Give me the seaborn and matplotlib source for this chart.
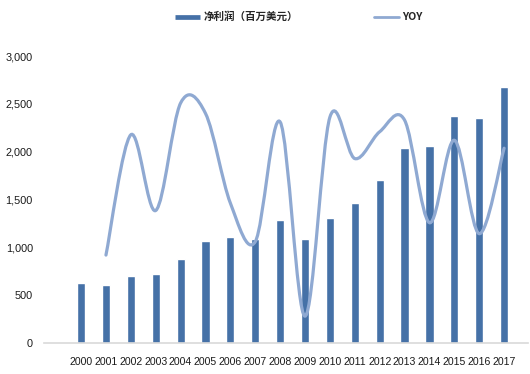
"""Net profit bars with a smoothed YOY line on a hidden secondary axis."""

import matplotlib

matplotlib.use("Agg")
import matplotlib.pyplot as plt  # noqa: E402
import seaborn as sns  # noqa: E402
from matplotlib.lines import Line2D  # noqa: E402
from matplotlib.patches import PathPatch  # noqa: E402
from matplotlib.path import Path  # noqa: E402
from matplotlib.ticker import FuncFormatter  # noqa: E402

YEARS = [str(y) for y in range(2000, 2018)]
NET_PROFIT = [630, 606, 700, 724, 878, 1066, 1108, 1087, 1285, 1087,
              1306, 1463, 1703, 2037, 2058, 2372, 2351, 2675]
# YOY (%) starts in 2001
YOY = [-5.2, 14.5, 2.1, 19.7, 18.0, 3.3, -3.0, 16.6, -15.2, 17.4,
       10.6, 15.0, 16.9, 0.1, 13.6, -1.7, 12.3]
Y_TICKS = [0, 500, 1000, 1500, 2000, 2500, 3000]

BAR_LABEL = "净利润（百万美元）"
LINE_LABEL = "YOY"
BAR = "#4571A7"
LINE = "#8FA9D2"
AXIS = "#D9D9D9"

sns.set_theme(style="white")
plt.rcParams["font.family"] = ["Liberation Sans", "Noto Sans CJK SC", "DejaVu Sans"]

W, H = 530, 374
fig = plt.figure(figsize=(W / 100, H / 100), dpi=100)
ax = fig.add_axes([44 / W, 31 / H, 484 / W, 287 / H])

sns.barplot(x=YEARS, y=NET_PROFIT, color=BAR, saturation=1, width=0.33, ax=ax, zorder=2)
ax.set_xlim(-1.49, 17.96)
ax.set_ylim(0, 3000)
ax.set_yticks(Y_TICKS)
ax.yaxis.set_major_formatter(FuncFormatter(lambda v, _: f"{v:,.0f}"))
ax.set(xlabel="", ylabel="")
ax.tick_params(axis="y", length=0, pad=8, labelsize=7.8, labelcolor="#1a1a1a")
ax.tick_params(axis="x", length=0, pad=10, labelsize=7.6, labelcolor="#1a1a1a")
for s in ("left", "top", "right"):
    ax.spines[s].set_visible(False)
ax.spines["bottom"].set_color(AXIS)
ax.spines["bottom"].set_linewidth(1.2)
ax.grid(False)

# secondary (hidden) axis for YOY, drawn as a smoothed Bezier path
ax2 = ax.twinx()
ax2.set_ylim(-19.6, 27.4)
ax2.axis("off")
xs = list(range(1, len(YEARS)))
pts = list(zip(xs, YOY))
verts, codes = [pts[0]], [Path.MOVETO]
for i in range(len(pts) - 1):
    p0 = pts[max(i - 1, 0)]
    p1, p2 = pts[i], pts[i + 1]
    p3 = pts[min(i + 2, len(pts) - 1)]
    c1 = (p1[0] + (p2[0] - p0[0]) / 6, p1[1] + (p2[1] - p0[1]) / 6)
    c2 = (p2[0] - (p3[0] - p1[0]) / 6, p2[1] - (p3[1] - p1[1]) / 6)
    verts += [c1, c2, p2]
    codes += [Path.CURVE4] * 3
ax2.add_patch(PathPatch(Path(verts, codes), facecolor="none", edgecolor=LINE,
                        lw=2.3, capstyle="round", transform=ax2.transData))

handles = [Line2D([], [], color=BAR, lw=3.4, solid_capstyle="butt"),
           Line2D([], [], color=LINE, lw=2.0)]
fig.legend(handles, [BAR_LABEL, LINE_LABEL], loc="center", bbox_to_anchor=(299 / W, 1 - 17 / H),
           ncol=2, frameon=False, handlelength=2.4, handletextpad=0.3, columnspacing=7.2,
           prop={"family": ["Noto Sans CJK SC", "DejaVu Sans"], "size": 7.6, "weight": "bold"})

fig.savefig("out.png", dpi=100, facecolor="white")
